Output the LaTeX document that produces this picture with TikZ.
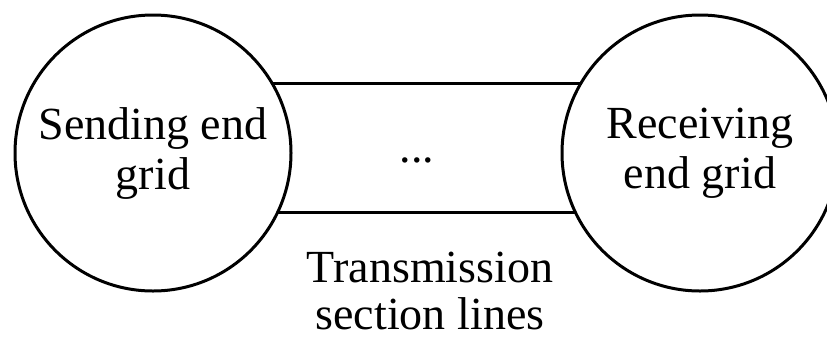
\documentclass[tikz,border=0pt]{standalone}
\usepackage{fontspec}
\setmainfont{Liberation Serif}
\usetikzlibrary{positioning,calc}
\tikzset{
grid/.style = {draw, fill=white, circle, line width=3pt, minimum size=276pt, inner sep=0pt, outer sep=0pt, align=center},
lbl/.style  = {align=center, inner sep=0pt},
tline/.style = {draw, line width=3pt}
}

\begin{document}
\begin{tikzpicture}[x=1pt, y=-1pt, font=\fontsize{46}{50}\selectfont]

                \useasboundingbox (0,0) rectangle (827,338);
                \node [grid] (send) at (153,153) {Sending end\\grid};
                \node [grid] (recv) at (700,153) {Receiving\\end grid};
                \node [lbl] (dots) at (417,160) {...};
                \node [lbl, font=\fontsize{46}{47}\selectfont] (tsl) at (430,291) {Transmission\\section lines};

                \draw [tline] ($(send.center)+(118.9,-70)$) -- ($(recv.center)+(-118.9,-70)$);
                \draw [tline] ($(send.center)+(124.8,59)$) -- ($(recv.center)+(-124.8,59)$);
            \end{tikzpicture}
\end{document}
